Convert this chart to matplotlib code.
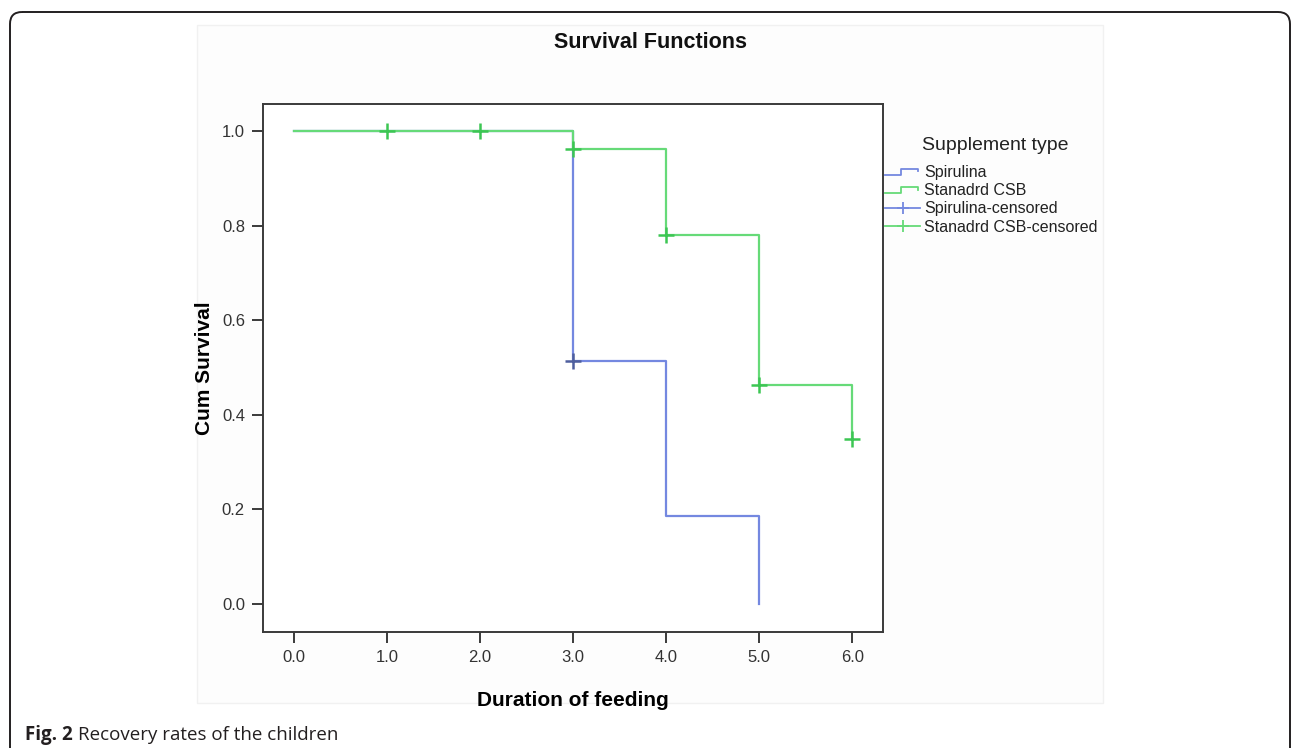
import matplotlib
matplotlib.use("Agg")
import matplotlib.pyplot as plt
from matplotlib.patches import FancyBboxPatch, Rectangle
from matplotlib.lines import Line2D
from matplotlib.legend_handler import HandlerBase

# Kaplan-Meier steps
spirulina_t = [0.0, 3.0, 4.0, 5.0]
spirulina_s = [1.0, 0.514, 0.187, 0.0]
csb_t = [0.0, 3.0, 4.0, 5.0, 6.0]
csb_s = [1.0, 0.962, 0.780, 0.463, 0.348]

# censored observations
spirulina_cens_t = [3.0]
spirulina_cens_s = [0.514]
csb_cens_t = [1.0, 2.0, 3.0, 4.0, 5.0, 6.0]
csb_cens_s = [1.0, 1.0, 0.962, 0.780, 0.463, 0.348]

x_ticks = [0, 1, 2, 3, 4, 5, 6]
y_ticks = [0.0, 0.2, 0.4, 0.6, 0.8, 1.0]
legend_labels = ["Spirulina", "Stanadrd CSB", "Spirulina-censored", "Stanadrd CSB-censored"]

BLUE = "#7488e0"
BLUE_DARK = "#4f5f9e"
GREEN = "#66da78"
GREEN_DARK = "#3cc653"
AXC = "#3a3a3a"

W, H = 1292, 748
plt.rcParams['font.family'] = ['Liberation Sans', 'DejaVu Sans']

fig = plt.figure(figsize=(W / 100, H / 100), dpi=100)


def px(x, y):
    return x / W, 1 - y / H


# pixel-space overlay for the page frame
page = fig.add_axes([0, 0, 1, 1], zorder=0)
page.set_xlim(0, W)
page.set_ylim(H, 0)
page.axis("off")
page.add_patch(FancyBboxPatch((10, 12), 1290 - 10, 800, boxstyle="round,pad=0,rounding_size=12",
                              facecolor="none", edgecolor="#231f20", lw=1.4))
# faint background of the embedded chart image
page.add_patch(Rectangle((197, 25), 1103 - 197, 703 - 25, facecolor="#fdfdfd",
                         edgecolor="#f1f1f1", lw=1))

ax_l, ax_b = px(263, 632)
ax_r, ax_t = px(883, 104)
ax = fig.add_axes([ax_l, ax_b, ax_r - ax_l, ax_t - ax_b], zorder=2)
ax.set_facecolor("white")

ax.step(spirulina_t, spirulina_s, where="post", color=BLUE, lw=1.6, zorder=3)
ax.step(csb_t, csb_s, where="post", color=GREEN, lw=1.6, zorder=4)
ax.plot(spirulina_cens_t, spirulina_cens_s, ls="none", marker="+", ms=11, mew=1.8,
        color=BLUE_DARK, zorder=5)
ax.plot(csb_cens_t, csb_cens_s, ls="none", marker="+", ms=11, mew=1.8,
        color=GREEN_DARK, zorder=6)

ax.set_xlim(-0.33, 6.33)
ax.set_ylim(-0.059, 1.057)
ax.set_xticks(x_ticks)
ax.set_xticklabels([f"{v:.1f}" for v in x_ticks])
ax.set_yticks(y_ticks)
ax.set_yticklabels([f"{v:.1f}" for v in y_ticks])
ax.tick_params(direction="out", length=8, width=1.4, color=AXC, labelsize=12,
               labelcolor="#333333", pad=5)
for s in ax.spines.values():
    s.set_color(AXC)
    s.set_linewidth(1.4)

ax.set_xlabel("Duration of feeding", fontsize=15, fontweight="bold")
ax.set_ylabel("Cum Survival", fontsize=15, fontweight="bold")
ax.xaxis.set_label_coords(0.5, -(700 - 632) / 528, transform=ax.transAxes)
ax.yaxis.set_label_coords(-(263 - 205) / 620, 0.5, transform=ax.transAxes)
ax.xaxis.label.set_va("center")
ax.yaxis.label.set_va("center")

fig.text(650 / W, 1 - 43 / H, "Survival Functions", ha="center", va="center",
         fontsize=15.5, fontweight="bold", color="#111111", zorder=3)


class StepHandler(HandlerBase):
    def create_artists(self, legend, orig_handle, xdescent, ydescent, width, height,
                       fontsize, trans):
        c = orig_handle.get_color()
        xs = [0, width * 0.45, width * 0.45, width * 0.95, width * 0.95]
        ys = [height * 0.2, height * 0.2, height * 0.75, height * 0.75, height * 0.5]
        ln = Line2D([x - xdescent for x in xs], [y - ydescent for y in ys], color=c, lw=1.3,
                    transform=trans)
        return [ln]


h_sp = Line2D([], [], color=BLUE)
h_csb = Line2D([], [], color=GREEN)
h_sp_c = Line2D([], [], color=BLUE, lw=1.3, marker="+", ms=9, mew=1.3)
h_csb_c = Line2D([], [], color=GREEN, lw=1.3, marker="+", ms=9, mew=1.3)

# legend title sits over the entry text, not over the handles
fig.text(px(922, 0)[0], 1 - 146 / H, "Supplement type", fontsize=14, va="center",
         color="#222222", zorder=5)

lx, ly = px(885, 165)
leg = fig.legend([h_sp, h_csb, h_sp_c, h_csb_c], legend_labels,
                 handler_map={h_sp: StepHandler(), h_csb: StepHandler()},
                 loc="upper left", bbox_to_anchor=(lx, ly), frameon=False,
                 fontsize=11.5, handlelength=2.2, handletextpad=0.25,
                 labelspacing=0.2, borderaxespad=0, borderpad=0)
leg.set_zorder(5)
for t in leg.get_texts():
    t.set_color("#222222")

# caption
fig.text(25 / W, 1 - 735 / H, "Fig. 2", fontsize=13.5, fontweight="bold",
         family=["Open Sans", "DejaVu Sans"], va="center", color="#231f20")
fig.text(78 / W, 1 - 735 / H, "Recovery rates of the children", fontsize=13.5,
         family=["Open Sans", "DejaVu Sans"], va="center", color="#231f20")

fig.savefig("out.png", dpi=100)
